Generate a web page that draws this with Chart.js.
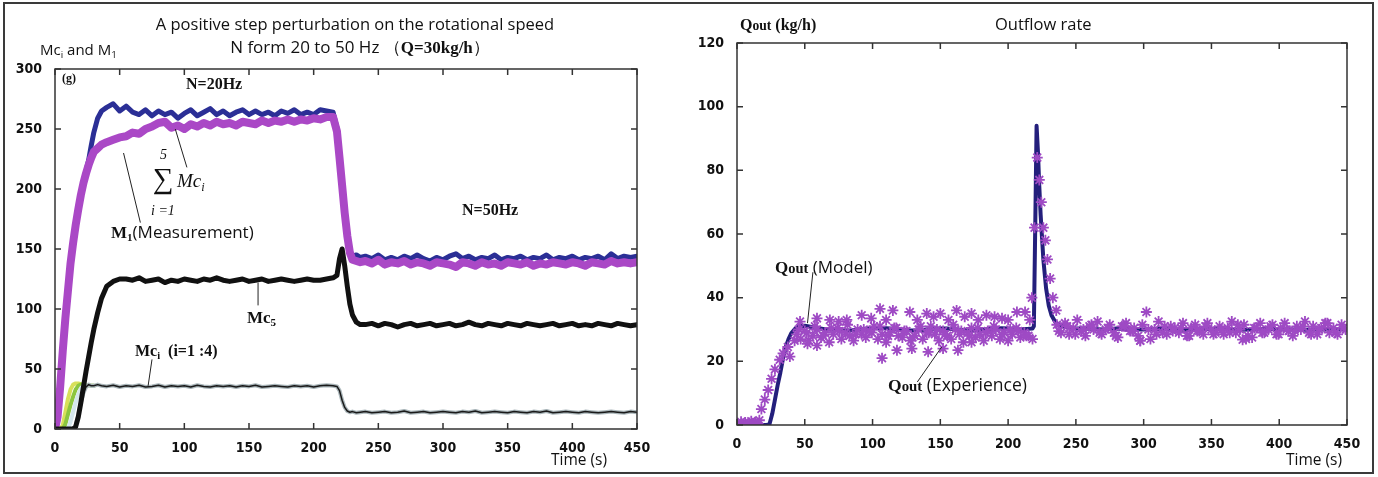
<!DOCTYPE html>
<html>
<head>
<meta charset="utf-8">
<script src="https://cdn.jsdelivr.net/npm/chart.js@4.4.0/dist/chart.umd.min.js"></script>
<style>
  html, body { margin: 0; padding: 0; background: #fff; }
  #wrap { position: relative; width: 1378px; height: 477px; overflow: hidden; background: #fff; }
  #frame { position: absolute; left: 3px; top: 2px; width: 1367px; height: 468px; border: 2px solid #3a3a3a; }
  canvas { position: absolute; top: 0; }
  #left { left: 0; }
  #right { left: 690px; }
  .t { position: absolute; white-space: nowrap; line-height: 1; color: #111; }
  .sans { font-family: 'Open Sans', 'Liberation Sans', sans-serif; }
  .serif { font-family: 'Liberation Serif', 'DejaVu Serif', serif; }
  .b { font-weight: bold; }
  .c { transform: translateX(-50%); }
  sub { font-size: 0.65em; vertical-align: -0.3em; line-height: 0; }
</style>
</head>
<body>
<div id="wrap">
  <canvas id="left" width="690" height="477"></canvas>
  <canvas id="right" width="688" height="477"></canvas>
  <div id="frame"></div>

  <!-- left panel texts -->
  <div class="t sans c" style="left:355px;top:16px;font-size:16.5px">A positive step perturbation on the rotational speed</div>
  <div class="t sans c" style="left:360px;top:38px;font-size:17px">N form 20 to 50 Hz&nbsp;（<span class="serif b">Q=30kg/h</span>）</div>
  <div class="t sans" style="left:40px;top:42px;font-size:15px">Mc<sub>i</sub> and M<sub>1</sub></div>
  <div class="t serif b" style="left:62px;top:72px;font-size:12px">(g)</div>
  <div class="t serif b" style="left:186px;top:76px;font-size:16px">N=20Hz</div>
  <div class="t serif b" style="left:462px;top:202px;font-size:16px">N=50Hz</div>
  <div class="t serif" style="left:160px;top:148px;font-size:14px;font-style:italic">5</div>
  <div class="t serif" style="left:153px;top:164px;font-size:29px">&sum;</div>
  <div class="t serif" style="left:177px;top:171px;font-size:19px;font-style:italic">Mc<sub>i</sub></div>
  <div class="t serif" style="left:151px;top:204px;font-size:14px;font-style:italic">i =1</div>
  <div class="t" style="left:111px;top:223px;font-size:17px"><span class="serif b">M<sub>1</sub></span><span class="sans">(Measurement)</span></div>
  <div class="t serif b" style="left:247px;top:309px;font-size:17px">Mc<sub>5</sub></div>
  <div class="t serif b" style="left:135px;top:343px;font-size:16px">Mc<sub>i</sub>&nbsp; (i=1 :4)</div>
  <div class="t sans" style="left:551px;top:452px;font-size:15.5px">Time (s)</div>

  <!-- right panel texts -->
  <div class="t serif b" style="left:740px;top:17px;font-size:16px">Q<span style="font-size:0.85em">out</span> (kg/h)</div>
  <div class="t sans" style="left:995px;top:16px;font-size:16.5px">Outflow rate</div>
  <div class="t" style="left:775px;top:258px;font-size:17px"><span class="serif b">Q<span style="font-size:0.85em">out</span></span><span class="sans"> (Model)</span></div>
  <div class="t" style="left:888px;top:376px;font-size:17.5px"><span class="serif b">Q<span style="font-size:0.85em">out</span></span><span class="sans"> (Experience)</span></div>
  <div class="t sans" style="left:1286px;top:452px;font-size:15.5px">Time (s)</div>
</div>

<script>
// ---- left panel: Mc_i and M1 (g) against time (s) ----
const timeL = [
  0, 2, 4, 6, 8, 10, 12, 14, 16, 18,
  20, 22, 24, 26, 28, 30, 33, 36, 40, 45,
  50, 55, 60, 65, 70, 75, 80, 85, 90, 95,
  100, 105, 110, 115, 120, 125, 130, 135, 140, 145,
  150, 155, 160, 165, 170, 175, 180, 185, 190, 195,
  200, 205, 210, 215, 218, 220, 222, 224, 226, 228,
  230, 233, 236, 240, 245, 250, 255, 260, 265, 270,
  275, 280, 285, 290, 295, 300, 305, 310, 315, 320,
  325, 330, 335, 340, 345, 350, 355, 360, 365, 370,
  375, 380, 385, 390, 395, 400, 405, 410, 415, 420,
  425, 430, 435, 440, 445, 450
];
// sum of Mc_i, i = 1..5 (model)
const sumMc = [
  0, 6, 30, 60, 88, 112, 134, 152, 167, 181,
  194, 206, 215, 224, 236, 247, 259, 265, 268, 271,
  265, 269, 264, 262, 266, 261, 265, 262, 264, 259,
  263, 266, 261, 264, 267, 262, 265, 261, 264, 266,
  262, 265, 262, 264, 261, 265, 263, 266, 262, 264,
  262, 266, 265, 264, 251, 229, 206, 184, 164, 149,
  144, 145, 143, 144, 142, 145, 141, 143, 141, 144,
  142, 145, 142, 140, 143, 141, 144, 146, 142, 144,
  141, 143, 142, 145, 141, 143, 142, 144, 141, 143,
  142, 145, 141, 143, 142, 144, 141, 143, 142, 144,
  141, 146, 142, 144, 143, 144
];
// M1 (measurement)
const m1Meas = [
  0, 10, 35, 65, 92, 115, 138, 155, 170, 183,
  195, 205, 213, 220, 226, 231, 234, 237, 239, 241,
  243, 244, 247, 246, 250, 252, 255, 256, 251, 253,
  250, 254, 252, 255, 253, 256, 254, 255, 253, 256,
  255, 254, 257, 255, 257, 256, 258, 256, 258, 257,
  259, 258, 260, 260, 248, 226, 203, 180, 161, 147,
  141, 140, 139, 140, 138, 141, 137, 139, 138, 140,
  137, 139, 138, 136, 139, 138, 137, 135, 139, 138,
  136, 139, 137, 138, 136, 139, 138, 137, 139, 136,
  138, 137, 139, 138, 137, 139, 138, 136, 139, 138,
  137, 140, 138, 139, 138, 139
];
// Mc5
const mc5 = [
  0, 0, 0, 0, 0, 0, 0, 0, 2, 10,
  22, 35, 48, 60, 72, 83, 97, 109, 119, 123,
  125, 125, 124, 126, 123, 124, 125, 122, 124, 123,
  125, 124, 123, 125, 124, 126, 124, 123, 124, 125,
  123, 124, 125, 123, 124, 125, 124, 123, 124, 125,
  124, 124, 125, 126, 128, 142, 150, 136, 119, 104,
  95, 89, 87, 87, 88, 86, 88, 87, 85, 87,
  88, 86, 87, 88, 86, 87, 88, 86, 87, 89,
  87, 86, 88, 87, 86, 88, 87, 86, 88, 87,
  86, 87, 88, 86, 87, 88, 86, 87, 86, 88,
  87, 86, 88, 87, 86, 87
];
// Mc4 (the four Mc_i settle on the same level)
const mc4 = [
  0, 0, 0, 0, 0, 0, 0, 0, 3, 12,
  22, 30, 35, 37, 36, 36, 37, 36, 35.5, 36.5,
  35, 36, 35.5, 36.5, 35, 35.5, 36.5, 35, 36, 35.5,
  36, 35, 36.5, 35.5, 35, 36, 35.5, 36, 35, 36,
  35.5, 36.5, 35, 35.5, 36, 35.5, 35, 36, 35.5, 36,
  35, 36, 36.5, 36, 35.5, 32, 24, 18, 15, 14,
  14.5, 13.5, 14, 14.5, 13.5, 14, 14.5, 13.5, 14, 15,
  13.5, 14, 14.5, 13.5, 14, 14.5, 14, 13.5, 14.5, 14,
  15, 13.5, 14, 14.5, 14, 13.5, 14.5, 14, 13.5, 14.5,
  14, 15, 13.5, 14, 14.5, 14, 13.5, 14.5, 14, 13.5,
  14, 14.5, 14, 13.5, 14.5, 14
];
// start-up of Mc1..Mc3
const timeRise = [0, 2, 4, 6, 8, 10, 12, 14, 16, 18, 20, 22, 24, 26, 28, 30];
const mc1 = [0, 0, 0, 3, 14, 25, 33, 37, 38, 38, 37, 37, 36, 36, 36, 36];
const mc2 = [0, 0, 0, 0, 4, 12, 20, 27, 33, 36, 37, 37, 36, 36, 36, 36];
const mc3 = [0, 0, 0, 0, 0, 0, 6, 14, 22, 29, 34, 36, 36, 36, 36, 36];

// ---- right panel: Qout (kg/h) ----
const timeModel = [
  0, 5, 10, 15, 20, 22, 24, 26, 28, 30,
  32, 34, 36, 38, 40, 43, 46, 50, 55, 60,
  65, 70, 75, 80, 85, 90, 95, 100, 105, 110,
  115, 120, 125, 130, 135, 140, 145, 150, 155, 160,
  165, 170, 175, 180, 185, 190, 195, 200, 205, 210,
  215, 218, 219, 220, 221, 222, 223, 224, 226, 228,
  230, 232, 235, 240, 245, 250, 260, 270, 280, 290,
  300, 310, 320, 330, 340, 350, 360, 370, 380, 390,
  400, 410, 420, 430, 440, 450
];
const qModel = [
  0, 0, 0, 0, 0, 0, 0.3, 3.5, 8, 12.5,
  16.5, 21, 24.5, 27, 28.8, 30.3, 31, 31.2, 30.8, 30.4,
  30.1, 30, 29.8, 29.7, 29.8, 30, 30.2, 30.4, 30.5, 30.4,
  30.2, 30, 29.8, 29.7, 29.8, 30, 30.2, 30.3, 30.3, 30.1,
  29.9, 29.7, 29.7, 29.9, 30.1, 30.3, 30.4, 30.3, 30.2, 30.1,
  30.2, 30.3, 31, 62, 94, 86, 75, 66, 52, 43,
  37.5, 34.5, 32.2, 31, 30.6, 30.4, 30.2, 30, 30.3, 30.1,
  30, 30.2, 30.1, 29.9, 30, 30.2, 30.1, 29.9, 30, 30.2,
  30.1, 30, 29.9, 30.1, 30, 30.1
];
// measured Qout, read in groups
const expRiseT = [0, 1.5, 3, 4.5, 6, 7.5, 9, 10.5, 12, 13.5, 15, 16.5, 18, 20.5, 23, 25.5, 28, 31.5, 34, 37.5, 39, 42.5, 46.5];
const expRiseQ = [0.5, 0, 1, 0.2, 0.8, 0, 0.6, 1.2, 0.3, 0.9, 0.4, 1.5, 5, 8, 11, 14.5, 17.5, 20.5, 22.5, 24.5, 21.5, 26.5, 32.5];
const expHighT = [59, 68.5, 81, 92, 105.5, 115, 127.5, 140, 150, 162, 173, 184, 195.5, 206.5, 212.5,
                  75, 99, 110, 133, 145, 156, 168, 178, 190, 200, 216];
const expHighQ = [33.5, 33, 33, 34.5, 36.5, 36, 35.5, 35, 35, 36, 35, 34.5, 33.5, 35.5, 35.5,
                  32.5, 33.5, 33, 33, 34, 33, 34, 33, 34, 33, 33];
const expLowT = [59, 107, 118, 129, 141, 152, 163, 173, 52, 297.5, 373];
const expLowQ = [25, 21, 23.5, 24, 23, 24, 23.5, 26, 25.5, 26.5, 26.8];
const expBandT = [
  44, 47, 50, 53, 56, 59, 62, 65, 68, 71,
  74, 77, 80, 83, 86, 89, 92, 95, 98, 101,
  104, 107, 110, 113, 116, 119, 122, 125, 128, 131,
  134, 137, 140, 143, 146, 149, 152, 155, 158, 161,
  164, 167, 170, 173, 176, 179, 182, 185, 188, 191,
  194, 197, 200, 203, 206, 209, 212, 215, 218,
  45.5, 51.5, 57.5, 63.5, 69.5, 75.5, 81.5, 87.5, 93.5, 99.5,
  105.5, 111.5, 117.5, 123.5, 129.5, 135.5, 141.5, 147.5, 153.5, 159.5,
  165.5, 171.5, 177.5, 183.5, 189.5, 195.5, 201.5, 207.5, 213.5
];
const expBandQ = [
  28.5, 27, 29.5, 26.5, 28, 30, 27.5, 29, 26, 28.5,
  30.5, 27, 29, 28, 26.5, 30, 28.5, 27.5, 29.5, 31,
  27, 28.5, 26, 29, 30.5, 28, 27.5, 29.5, 26.5, 28,
  30, 27, 29, 31, 28.5, 26.5, 29.5, 28, 27, 30,
  28.5, 26, 29, 30.5, 27.5, 28.5, 26.5, 29.5, 28, 30,
  27, 29, 26.5, 28.5, 30.5, 27.5, 29, 28, 27,
  30, 29, 31, 28, 30.5, 29.5, 31.5, 28.5, 30, 29,
  31, 28, 30.5, 29.5, 27.5, 31, 29, 30, 28.5, 31.5,
  29.5, 28, 30.5, 29, 31, 28.5, 30, 29.5, 28
];
const expPeakT = [217.5, 219.5, 221.5, 223, 224.5, 226, 227.5, 229, 231, 233, 235.5];
const expPeakQ = [40, 62, 84, 77, 70, 62, 58, 52, 46, 40, 36];
const expTailT = [
  236, 239, 242, 245, 248, 251, 254, 257, 260, 263,
  266, 269, 272, 275, 278, 281, 284, 287, 290, 293,
  296, 299, 302, 305, 308, 311, 314, 317, 320, 323,
  326, 329, 332, 335, 338, 341, 344, 347, 350, 353,
  356, 359, 362, 365, 368, 371, 374, 377, 380, 383,
  386, 389, 392, 395, 398, 401, 404, 407, 410, 413,
  416, 419, 422, 425, 428, 431, 434, 437, 440, 443,
  446, 449,
  237.5, 243.5, 249.5, 255.5, 261.5, 267.5, 273.5, 279.5, 285.5, 291.5,
  297.5, 303.5, 309.5, 315.5, 321.5, 327.5, 333.5, 339.5, 345.5, 351.5,
  357.5, 363.5, 369.5, 375.5, 381.5, 387.5, 393.5, 399.5, 405.5, 411.5,
  417.5, 423.5, 429.5, 435.5, 441.5, 447.5
];
const expTailQ = [
  31.5, 29, 32, 28.5, 30.5, 33, 29.5, 28, 31, 30,
  32.5, 28.5, 30, 31.5, 29, 27.5, 31, 32, 29.5, 30.5,
  28, 31.5, 35.5, 27, 30, 32.5, 29, 28.5, 31, 30.5,
  29, 32, 28, 30.5, 31.5, 29.5, 28.5, 32, 30, 29,
  31, 28.5, 30.5, 32.5, 29, 30, 31.5, 28, 27.5, 30.5,
  32, 29, 30, 31.5, 28.5, 30.5, 32, 29.5, 28, 31,
  30, 32.5, 29, 31, 28.5, 30.5, 32, 29, 30.5, 28.5,
  31.5, 30,
  29.5, 31, 28.5, 30, 31.5, 29, 30.5, 28, 31, 29.5,
  26.5, 30, 28.5, 31, 29.5, 30.5, 28, 29.5, 31, 28.5,
  30, 29, 31.5, 27, 30.5, 29, 31, 28.5, 30, 29.5,
  31, 28.5, 30, 32, 29, 30.5
];

// tick labels
const timeTicks = [0, 50, 100, 150, 200, 250, 300, 350, 400, 450];
const massTicks = [0, 50, 100, 150, 200, 250, 300];
const flowTicks = [0, 20, 40, 60, 80, 100, 120];

const tickFont = { family: "'Liberation Sans Narrow', 'DejaVu Sans Condensed', sans-serif", size: 14, weight: 'bold' };

const pts = (ts, vs) => ts.map((t, i) => ({ x: t, y: vs[i] }));

function lineSet(label, ts, vs, color, width, order) {
  return {
    label, data: pts(ts, vs), borderColor: color, backgroundColor: color,
    borderWidth: width, pointRadius: 0, order, tension: 0,
    borderJoinStyle: 'round', borderCapStyle: 'round'
  };
}

function starSet(label, ts, vs) {
  return {
    label, data: pts(ts, vs), showLine: false, order: 0,
    pointStyle: 'star', pointRadius: 5.5, pointBorderWidth: 1.8,
    borderColor: '#9e4ac4', backgroundColor: '#9e4ac4'
  };
}

// inward ticks on the four sides, box frame and label leaders (data coords)
const frameTicks = {
  id: 'frameTicks',
  afterDatasetsDraw(chart, args, opts) {
    const { ctx, chartArea: a, scales: { x, y } } = chart;
    ctx.save();
    ctx.strokeStyle = '#333';
    ctx.lineWidth = 1.5;
    ctx.strokeRect(a.left, a.top, a.right - a.left, a.bottom - a.top);
    ctx.beginPath();
    x.ticks.forEach(t => {
      const p = x.getPixelForValue(t.value);
      ctx.moveTo(p, a.bottom); ctx.lineTo(p, a.bottom - 6);
      ctx.moveTo(p, a.top); ctx.lineTo(p, a.top + 6);
    });
    y.ticks.forEach(t => {
      const p = y.getPixelForValue(t.value);
      ctx.moveTo(a.left, p); ctx.lineTo(a.left + 6, p);
      ctx.moveTo(a.right, p); ctx.lineTo(a.right - 6, p);
    });
    ctx.stroke();
    ctx.lineWidth = 1;
    ctx.strokeStyle = '#222';
    ctx.beginPath();
    (opts.leaders || []).forEach(([t0, v0, t1, v1]) => {
      ctx.moveTo(x.getPixelForValue(t0), y.getPixelForValue(v0));
      ctx.lineTo(x.getPixelForValue(t1), y.getPixelForValue(v1));
    });
    ctx.stroke();
    ctx.restore();
  }
};

function makeOptions(yTicks, yMax, pad, yWidth, xHeight, leaders) {
  return {
    responsive: false,
    animation: false,
    devicePixelRatio: 1,
    layout: { padding: pad },
    plugins: { legend: { display: false }, tooltip: { enabled: false }, frameTicks: { leaders } },
    scales: {
      x: {
        type: 'linear', min: 0, max: 450,
        grid: { display: false }, border: { display: false },
        ticks: { font: tickFont, color: '#111', padding: 3, autoSkip: false, maxRotation: 0 },
        afterBuildTicks: s => { s.ticks = timeTicks.map(v => ({ value: v })); },
        afterFit: s => { s.height = xHeight; }
      },
      y: {
        type: 'linear', min: 0, max: yMax,
        grid: { display: false }, border: { display: false },
        ticks: { font: tickFont, color: '#111', padding: 5, autoSkip: false },
        afterBuildTicks: s => { s.ticks = yTicks.map(v => ({ value: v })); },
        afterFit: s => { s.width = yWidth; }
      }
    }
  };
}

new Chart(document.getElementById('left'), {
  type: 'line',
  data: {
    datasets: [
      lineSet('Mc5', timeL, mc5, '#111111', 5, 0),
      lineSet('Mc4', timeL, mc4, '#1a1a1a', 1.5, 1),
      lineSet('Mc4 halo', timeL, mc4, '#aab6ba', 4, 2),
      lineSet('Mc3', timeRise, mc3, '#d5e6ec', 4, 3),
      lineSet('Mc2', timeRise, mc2, '#8cc63f', 4, 4),
      lineSet('Mc1', timeRise, mc1, '#d8e05a', 4, 5),
      lineSet('M1 (Measurement)', timeL, m1Meas, '#aa48c6', 8, 6),
      lineSet('sum Mc_i', timeL, sumMc, '#2b2f96', 5, 7)
    ]
  },
  options: makeOptions(massTicks, 300, { left: 0, top: 69, right: 53, bottom: 0 }, 55, 48,
    [[102, 218, 93, 250], [66, 172, 53, 230], [157, 122, 157, 103], [75, 58, 72, 36]]),
  plugins: [frameTicks]
});

new Chart(document.getElementById('right'), {
  type: 'line',
  data: {
    datasets: [
      starSet('Qout (Experience)', expRiseT, expRiseQ),
      starSet('Qout (Experience) high', expHighT, expHighQ),
      starSet('Qout (Experience) low', expLowT, expLowQ),
      starSet('Qout (Experience) band', expBandT, expBandQ),
      starSet('Qout (Experience) peak', expPeakT, expPeakQ),
      starSet('Qout (Experience) tail', expTailT, expTailQ),
      lineSet('Qout (Model)', timeModel, qModel, '#241f7c', 4, 1)
    ]
  },
  options: makeOptions(flowTicks, 120, { left: 0, top: 43, right: 31, bottom: 0 }, 47, 52,
    [[56, 48, 52, 32], [133, 13.5, 151, 24.5]]),
  plugins: [frameTicks]
});
</script>
</body>
</html>
